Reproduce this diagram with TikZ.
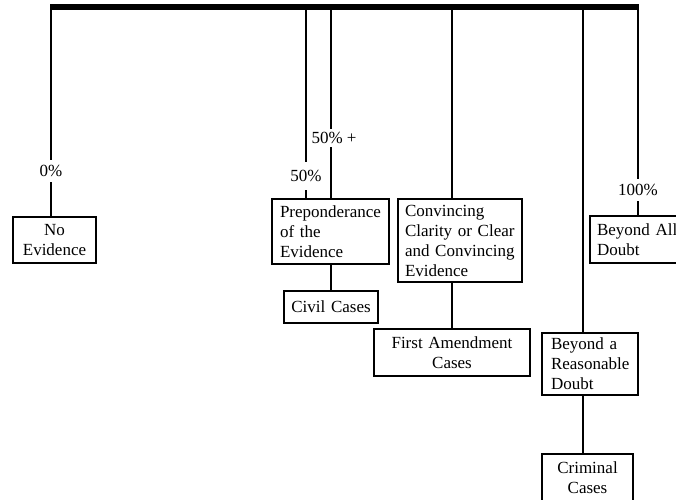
\documentclass[tikz,border=0pt]{standalone}
\usepackage{fontspec}
\setmainfont{Liberation Serif}
\begin{document}
\begin{tikzpicture}[x=1pt,y=-1pt,
  every node/.style={font=\fontsize{17}{20}\selectfont},
  box/.style={draw, line width=1.3pt, anchor=north west, inner xsep=7pt, inner ysep=2pt, outer sep=0pt},
  lbl/.style={fill=white, inner xsep=1pt, inner ysep=0pt},
  conn/.style={line width=1.3pt}
]
\useasboundingbox (0,0) rectangle (676,499);

% boxes
\node[box, minimum width=83pt, minimum height=46pt, text width=69pt, align=center] (noev) at (13,217) {No\\Evidence};
\node[box, minimum width=117pt, minimum height=65pt, inner xsep=8pt, text width=101pt, align=left] (prep) at (272,199) {Preponderance\\of the\\Evidence};
\node[box, minimum width=94pt, minimum height=32pt, text width=80pt, align=center] (civil) at (284,291) {Civil Cases};
\node[box, minimum width=124pt, minimum height=83pt, inner xsep=7pt, text width=110pt, align=left] (conv) at (398,199) {Convincing\\Clarity or Clear\\and Convincing\\Evidence};
\node[box, minimum width=156pt, minimum height=47pt, text width=142pt, align=center] (first) at (374,329) {First Amendment\\Cases};
\node[box, minimum width=96pt, minimum height=62pt, inner xsep=9pt, text width=78pt, align=left] (brd) at (542,333) {Beyond a\\Reasonable\\Doubt};
\node[box, minimum width=91pt, minimum height=48pt, text width=77pt, align=center] (crim) at (542,454) {Criminal\\Cases};
\node[box, minimum width=104pt, minimum height=47pt, text width=90pt, align=left] (bad) at (590,216) {Beyond All\\Doubt};

% points on the bar
\coordinate (t0) at (51,7);
\coordinate (t50) at (306,7);
\coordinate (t50p) at (331,7);
\coordinate (tcc) at (452,7);
\coordinate (tbrd) at (583,7);
\coordinate (t100) at (638,7);

% vertical connectors
\draw[conn] (t0) -- (t0 |- noev.north);
\draw[conn] (t50) -- (t50 |- prep.north);
\draw[conn] (t50p) -- (t50p |- prep.north);
\draw[conn] (tcc) -- (tcc |- conv.north);
\draw[conn] (tbrd) -- (tbrd |- brd.north);
\draw[conn] (t100) -- (t100 |- bad.north);
\draw[conn] (t50p |- prep.south) -- (t50p |- civil.north);
\draw[conn] (tcc |- conv.south) -- (tcc |- first.north);
\draw[conn] (tbrd |- brd.south) -- (tbrd |- crim.north);

% labels
\node[lbl, minimum height=22pt] (l0) at (51,171) {0\%};
\node[lbl, minimum height=28pt] (l50) at (306,176) {50\%};
\node[lbl, minimum height=18pt] (l50p) at (334,138) {50\% +};
\node[lbl, minimum height=22pt] (l100) at (638,190) {100\%};

% top bar
\draw[line width=6pt] (50,7) -- (639,7);
\end{tikzpicture}
\end{document}
